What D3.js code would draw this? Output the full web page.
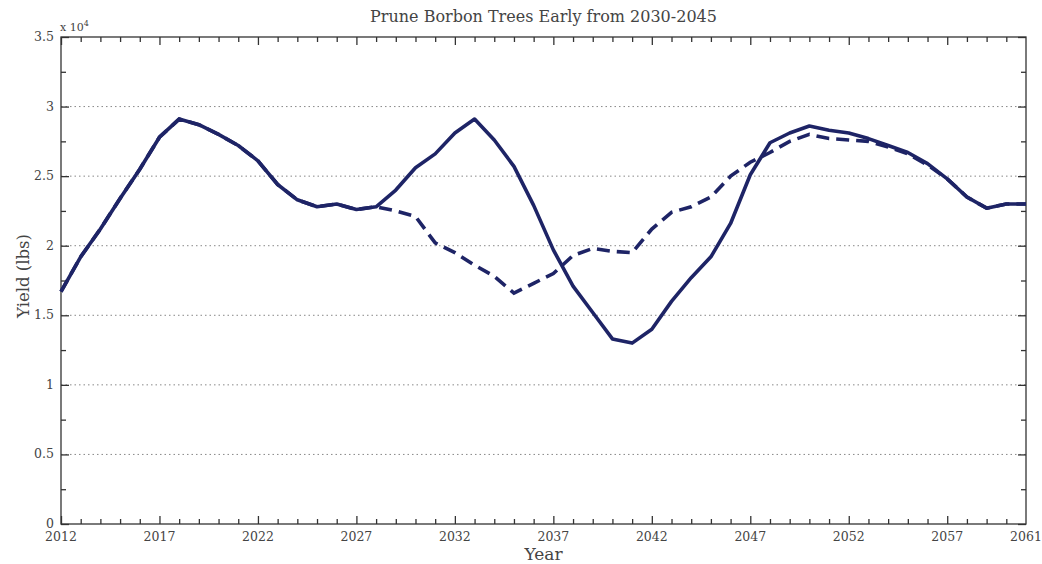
<!DOCTYPE html>
<html>
  <head>
    <meta charset="utf-8">
    <title>Prune Borbon Trees Early from 2030-2045</title>
    <script src="https://cdn.jsdelivr.net/npm/d3@7"></script>
    <style>
      body { margin: 0; background: #fff; }
      svg text { font-family: "DejaVu Serif", "Liberation Serif", serif; fill: #444; }
      .grid-line { stroke: #888; stroke-dasharray: 1.5,3; stroke-width: 1; }
      .frame { fill: none; stroke: #333; stroke-width: 1.3; }
      .tick-mark { stroke: #333; stroke-width: 1.3; }
    </style>
  </head>
  <body>
    <svg id="chart" width="1042" height="564"></svg>
    <script>
    // yields in units of 10^4 lbs, one value per year 2012..2061
    var years = d3.range(2012, 2062);

    var solid = [1.67, 1.92, 2.12, 2.34, 2.55, 2.78, 2.91, 2.87, 2.80, 2.72,
                 2.61, 2.44, 2.33, 2.28, 2.30, 2.26, 2.28, 2.40, 2.56, 2.66,
                 2.81, 2.91, 2.76, 2.57, 2.29, 1.97, 1.71, 1.52, 1.33, 1.30,
                 1.40, 1.60, 1.77, 1.92, 2.16, 2.51, 2.74, 2.81, 2.86, 2.83,
                 2.81, 2.77, 2.72, 2.67, 2.59, 2.48, 2.35, 2.27, 2.30, 2.30];

    var dashed = [1.67, 1.92, 2.12, 2.34, 2.55, 2.78, 2.91, 2.87, 2.80, 2.72,
                  2.61, 2.44, 2.33, 2.28, 2.30, 2.26, 2.28, 2.25, 2.21, 2.02,
                  1.95, 1.86, 1.78, 1.66, 1.73, 1.80, 1.93, 1.98, 1.96, 1.95,
                  2.12, 2.24, 2.28, 2.35, 2.50, 2.60, 2.67, 2.75, 2.80, 2.77,
                  2.76, 2.75, 2.71, 2.66, 2.58, 2.48, 2.35, 2.27, 2.30, 2.30];

    var xTickLabels = [2012, 2017, 2022, 2027, 2032, 2037, 2042, 2047, 2052, 2057, 2061];
    var yTickLabels = [0, 0.5, 1, 1.5, 2, 2.5, 3, 3.5];

    var margin = {top: 37, right: 16, bottom: 40, left: 61};
    var width = 1042 - margin.left - margin.right;
    var height = 564 - margin.top - margin.bottom;

    var x = d3.scaleLinear().domain([2012, 2061]).range([0, width]);
    var y = d3.scaleLinear().domain([0, 3.5]).range([height, 0]);

    var svg = d3.select("#chart");

    svg.append("text")
      .attr("x", margin.left + width / 2)
      .attr("y", 22)
      .attr("text-anchor", "middle")
      .style("font-size", "16px")
      .text("Prune Borbon Trees Early from 2030-2045");

    var g = svg.append("g")
      .attr("transform", "translate(" + margin.left + "," + margin.top + ")");

    // dotted grid at the labelled y values
    g.selectAll(".grid-line")
      .data(yTickLabels.filter(function(d) { return d > 0 && d < 3.5; }))
      .enter().append("line")
      .attr("class", "grid-line")
      .attr("x1", 0).attr("x2", width)
      .attr("y1", function(d) { return y(d); })
      .attr("y2", function(d) { return y(d); });

    // inward ticks on all four sides, made with d3 axes
    var xMinor = years.filter(function(d) { return (d - 2012) % 5 != 0 && d != 2061; });
    var xMajor = years.filter(function(d) { return (d - 2012) % 5 == 0; });
    var yMinor = d3.range(0.25, 3.5, 0.5);
    var yMajor = yTickLabels;

    function tickGroup(axis, transform) {
      var a = g.append("g").attr("transform", transform).call(axis);
      a.select(".domain").remove();
      a.selectAll("line").attr("class", "tick-mark");
      a.selectAll("text").remove();
    }

    tickGroup(d3.axisBottom(x).tickValues(xMajor).tickSize(-8), "translate(0," + height + ")");
    tickGroup(d3.axisBottom(x).tickValues(xMinor).tickSize(-5), "translate(0," + height + ")");
    tickGroup(d3.axisTop(x).tickValues(xMajor).tickSize(-8), "translate(0,0)");
    tickGroup(d3.axisTop(x).tickValues(xMinor).tickSize(-5), "translate(0,0)");
    tickGroup(d3.axisLeft(y).tickValues(yMajor).tickSize(-8), "translate(0,0)");
    tickGroup(d3.axisLeft(y).tickValues(yMinor).tickSize(-5), "translate(0,0)");
    tickGroup(d3.axisRight(y).tickValues(yMajor).tickSize(-8), "translate(" + width + ",0)");
    tickGroup(d3.axisRight(y).tickValues(yMinor).tickSize(-5), "translate(" + width + ",0)");

    g.append("rect")
      .attr("class", "frame")
      .attr("width", width)
      .attr("height", height);

    // tick labels
    g.selectAll(".x-label")
      .data(xTickLabels)
      .enter().append("text")
      .attr("class", "x-label")
      .attr("x", function(d) { return x(d); })
      .attr("y", height + 17)
      .attr("text-anchor", "middle")
      .style("font-size", "12.5px")
      .text(function(d) { return d; });

    g.selectAll(".y-label")
      .data(yTickLabels)
      .enter().append("text")
      .attr("class", "y-label")
      .attr("x", -7)
      .attr("y", function(d) { return y(d) + 4; })
      .attr("text-anchor", "end")
      .style("font-size", "12.5px")
      .text(function(d) { return d; });

    var expo = svg.append("text")
      .attr("x", margin.left - 1)
      .attr("y", 31)
      .style("font-size", "11px");
    expo.append("tspan").text("x 10");
    expo.append("tspan").attr("dy", -5).style("font-size", "8px").text("4");

    svg.append("text")
      .attr("x", margin.left + width / 2)
      .attr("y", 560)
      .attr("text-anchor", "middle")
      .style("font-size", "17px")
      .text("Year");

    svg.append("text")
      .attr("transform", "translate(29,276) rotate(-90)")
      .attr("text-anchor", "middle")
      .style("font-size", "16.5px")
      .text("Yield (lbs)");

    var line = d3.line()
      .x(function(d, i) { return x(years[i]); })
      .y(function(d) { return y(d); });

    g.append("path")
      .datum(dashed)
      .attr("fill", "none")
      .attr("stroke", "#1e2466")
      .attr("stroke-width", 3.6)
      .attr("stroke-dasharray", "13,7")
      .attr("d", line);

    g.append("path")
      .datum(solid)
      .attr("fill", "none")
      .attr("stroke", "#1e2466")
      .attr("stroke-width", 3.6)
      .attr("stroke-linejoin", "round")
      .attr("d", line);
    </script>
  </body>
</html>
